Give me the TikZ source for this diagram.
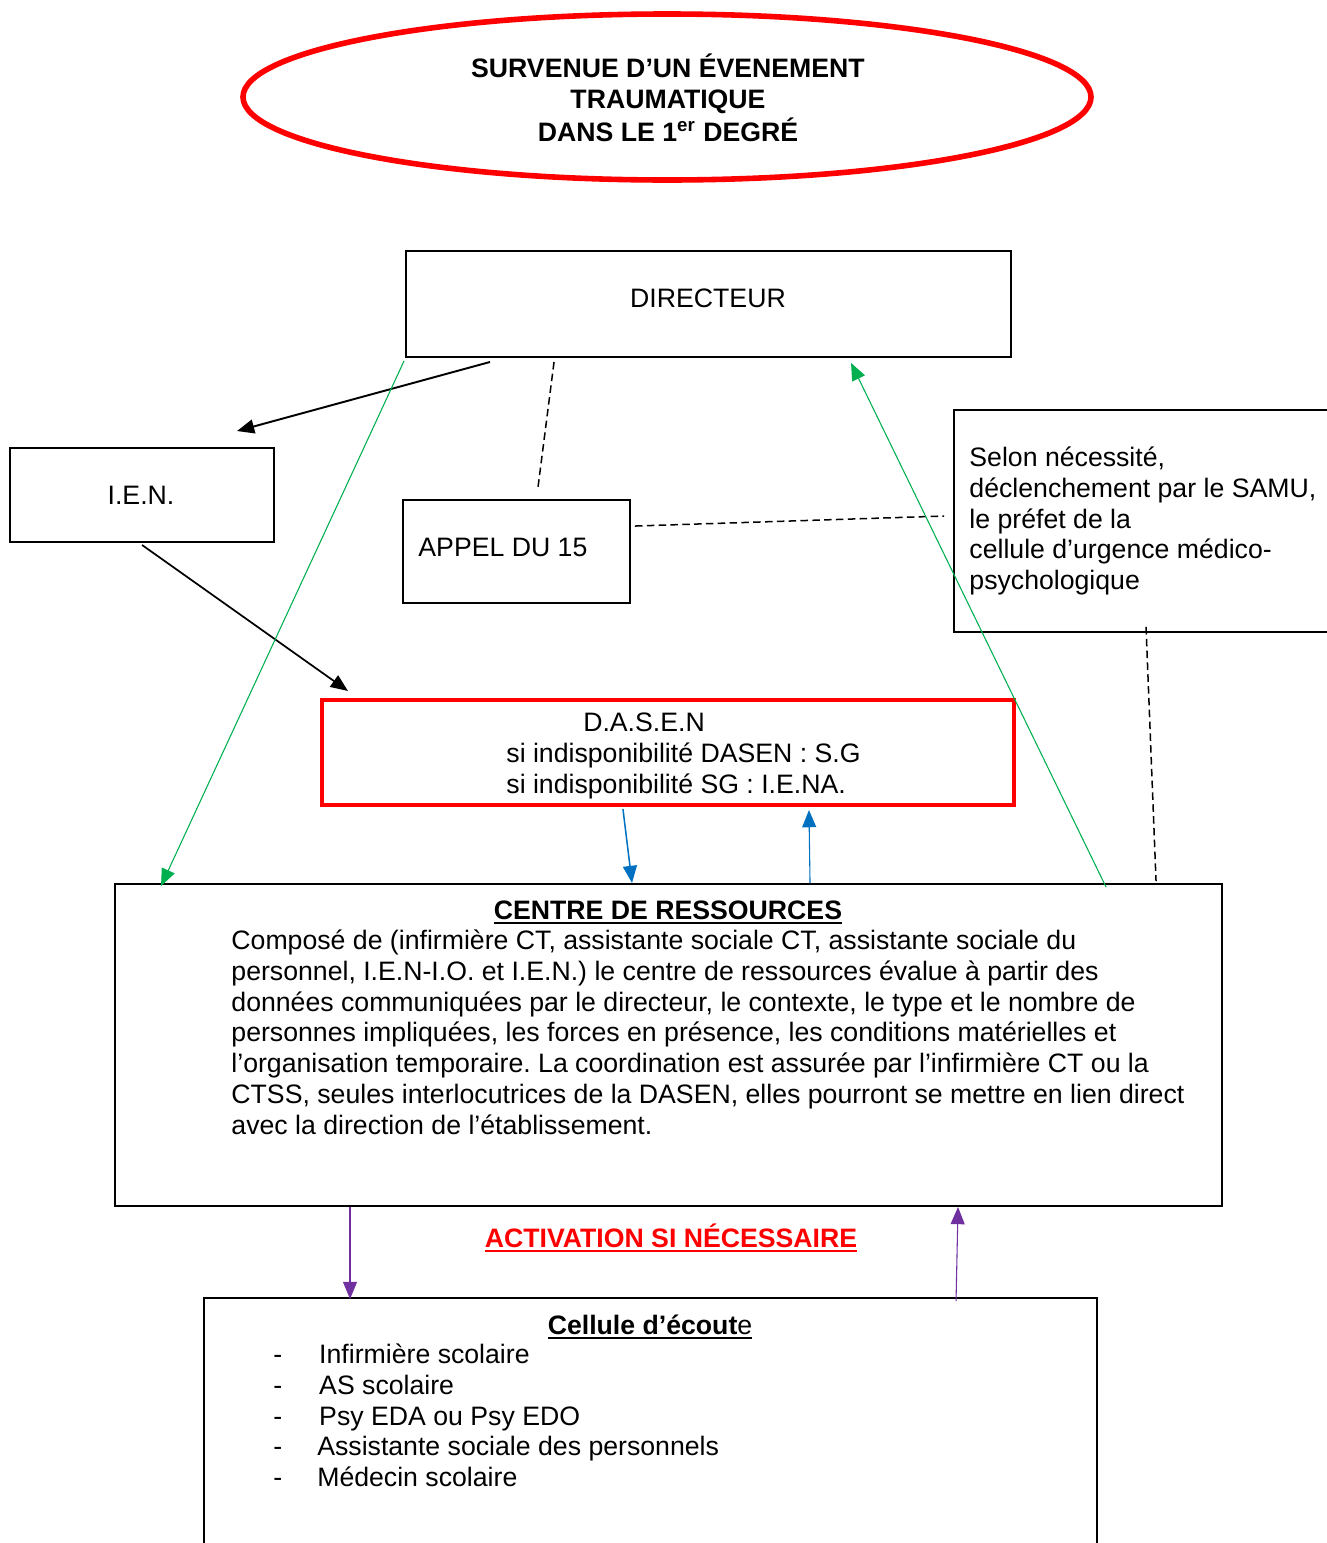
\documentclass[tikz,border=0pt]{standalone}
\usepackage{fontspec}
\setmainfont{Liberation Sans}
\usetikzlibrary{arrows.meta,calc,fit}
\frenchspacing
\newcommand{\pxu}{0.465pt}
\newcommand{\souligne}[1]{\leavevmode\vtop{\hbox{#1}\kern1.3pt\hrule height 1.1pt}}
\definecolor{vertfl}{RGB}{0,176,80}
\definecolor{bleufl}{RGB}{0,112,192}
\definecolor{violetfl}{RGB}{112,48,160}
\tikzset{cadre/.style={draw, inner sep=0pt, line width=0.9pt}}
\tikzset{texte/.style={inner sep=0pt, font=\fontsize{12.4}{14.4}\selectfont}}
\tikzset{fleche/.style={-{Triangle[length=8pt,width=6.5pt]}}}
\tikzset{tirets/.style={dash pattern=on 3.5pt off 2pt, line width=0.7pt}}

\begin{document}
\begin{tikzpicture}[x=\pxu, y=-\pxu]

\useasboundingbox (0,0) rectangle (1327,1543);
\clip (0,0) rectangle (1327,1543);

% titre
\draw[red, line width=2.6pt] (667,97) ellipse [x radius=424, y radius=83];
\node[texte, font=\fontsize{12.4}{14.4}\selectfont\bfseries, align=center, anchor=north] (titre) at (668,53)
  {SURVENUE D’UN ÉVENEMENT\\TRAUMATIQUE\\[1pt]DANS LE 1\textsuperscript{er} DEGRÉ};

% boites
\node[cadre, fit={(406,251) (1011,357)}] (directeur) {};
\node[texte, anchor=base] (directeur-t) at (708,307) {DIRECTEUR};

\node[cadre, fit={(10,448) (274,542)}] (ien) {};
\node[texte, anchor=base] (ien-t) at (141,504) {I.E.N.};

\node[cadre, fit={(403,500) (630,603)}] (appel) {};
\node[texte, anchor=base west] (appel-t) at (418,556) {APPEL DU 15};

\node[cadre, fit={(954,410) (1345,632)}] (samu) {};
\node[texte, align=left, anchor=north west] (samu-t) at (969,446)
  {Selon nécessité,\\déclenchement par le SAMU,\\le préfet de la\\cellule d’urgence médico-\\psychologique};

\node[cadre, draw=red, line width=1.9pt, fit={(322,700) (1014,805)}] (dasen) {};
\node[texte, anchor=base] (dasen-t) at (644,731) {D.A.S.E.N};
\node[texte, align=left, anchor=north west] (dasen-s) at (506,742)
  {si indisponibilité DASEN : S.G\\si indisponibilité SG : I.E.NA.};

\node[cadre, fit={(115,884) (1222,1206)}] (centre) {};
\node[texte, anchor=base] (centre-t) at (668,919) {\souligne{\textbf{CENTRE DE RESSOURCES}}};
\node[texte, align=left, anchor=north west] (centre-p) at (231,929)
  {Composé de (infirmière CT, assistante sociale CT, assistante sociale du\\
   personnel, I.E.N-I.O. et I.E.N.) le centre de ressources évalue à partir des\\
   données communiquées par le directeur, le contexte, le type et le nombre de\\
   personnes impliquées, les forces en présence, les conditions matérielles et\\
   l’organisation temporaire. La coordination est assurée par l’infirmière CT ou la\\
   CTSS, seules interlocutrices de la DASEN, elles pourront se mettre en lien direct\\
   avec la direction de l’établissement.};

\node[texte, text=red, anchor=base] (activation) at (671,1247) {\souligne{\textbf{ACTIVATION SI NÉCESSAIRE}}};

\node[cadre, fit={(204,1298) (1097,1620)}] (cellule) {};
\node[texte, anchor=base] (cellule-t) at (650,1334) {\souligne{\textbf{Cellule d’écout}e}};
\node[texte, align=left, anchor=north west] (cellule-l) at (273,1343)
  {\makebox[21.3pt][l]{-}Infirmière scolaire\\
   \makebox[21.3pt][l]{-}AS scolaire\\
   \makebox[21.3pt][l]{-}Psy EDA ou Psy EDO\\
   \makebox[20.4pt][l]{-}Assistante sociale des personnels\\
   \makebox[20.4pt][l]{-}Médecin scolaire};

% fleches noires
\draw[fleche, line width=0.9pt] ($(directeur.south west)+(85,4)$) -- ($(ien.north west)+(228,-16)$);
\draw[fleche, line width=0.8pt] ($(ien.south west)+(133,2)$) -- ($(dasen.north west)+(28,-7)$);

% liaisons en tirets
\draw[tirets] ($(directeur.south west)+(149,4)$) -- ($(appel.north west)+(136,-12)$);
\draw[tirets] ($(appel.north east)+(4,27)$) -- ($(samu.north west)+(-9,107)$);
\draw[tirets] ($(samu.south west)+(193,-6)$) -- ($(centre.north west)+(1042,-2)$);

% fleches vertes
\draw[fleche, vertfl, line width=0.5pt] ($(directeur.south west)+(-1,3)$) -- ($(centre.north west)+(47,3)$);
\draw[fleche, vertfl, line width=0.5pt] ($(centre.north west)+(992,4)$) -- ($(directeur.south west)+(446,5)$);

% fleches bleues
\draw[fleche, bleufl, line width=0.7pt] ($(dasen.south west)+(303,2)$) -- ($(centre.north west)+(518,0)$);
\draw[fleche, bleufl, line width=0.5pt] ($(centre.north west)+(696,0)$) -- ($(dasen.south west)+(489,3)$);

% fleches violettes
\draw[fleche, violetfl, line width=0.5pt] ($(centre.south west)+(236,0)$) -- ($(cellule.north west)+(147,2)$);
\draw[fleche, violetfl, line width=0.5pt] ($(cellule.north west)+(753,4)$) -- ($(centre.south west)+(844,0)$);

\end{tikzpicture}
\end{document}
